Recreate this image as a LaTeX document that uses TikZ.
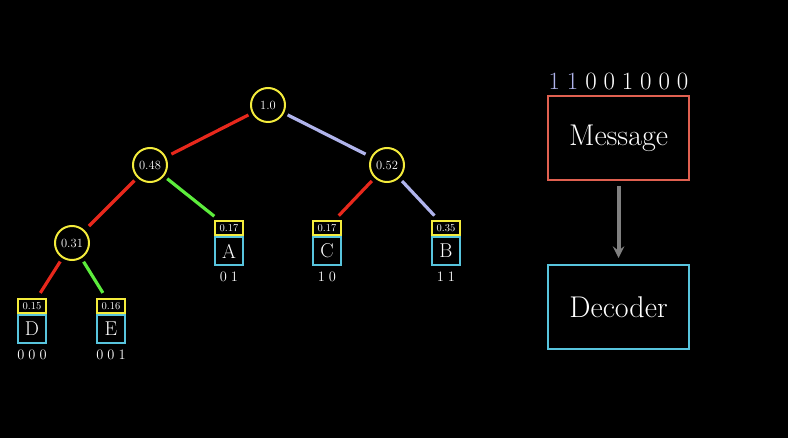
\documentclass[tikz,border=0pt]{standalone}
\usepackage{tikz}
\usetikzlibrary{positioning}
\definecolor{lav}{HTML}{B0B4EC}
\definecolor{tred}{HTML}{E8281C}
\definecolor{tgreen}{HTML}{5CEC3C}
\definecolor{tyel}{HTML}{F4EC3C}
\definecolor{tblue}{HTML}{58C4DD}
\definecolor{msgred}{HTML}{E06050}
\tikzset{
  prob/.style={draw=tyel, circle, line width=2pt, minimum size=34pt, inner sep=0pt, text=white, font=\fontsize{12.5}{14}\selectfont},
  leaf/.style={draw=tblue, rectangle, line width=2pt, minimum width=28pt, minimum height=28pt, inner sep=0pt, text=white, font=\fontsize{20}{22}\selectfont},
  leafp/.style={draw=tyel, rectangle, line width=2pt, minimum width=28pt, minimum height=14pt, inner sep=0pt, text=white, font=\fontsize{10.5}{11}\selectfont},
  code/.style={text=white, font=\fontsize{15}{17}\selectfont},
  edge/.style={line width=3.2pt, shorten >=6pt, shorten <=4pt},
  bigbox/.style={draw, rectangle, line width=2pt, minimum width=141pt, minimum height=84pt, text=white, font=\fontsize{30}{32}\selectfont}
}
\begin{document}
\begin{tikzpicture}[x=1pt,y=-1pt]
    \fill (0,0) rectangle (788,438);
    \useasboundingbox (0,0) rectangle (788,438);
    % tree nodes
    \node [prob] (root) at (268,105) {1.0};
    \node [prob] (n48) at (150,165) {0.48};
    \node [prob] (n52) at (387,165) {0.52};
    \node [prob] (n31) at (72,243) {0.31};
    % leaves
    \node [leaf] (A) at (229,251) {A};
    \node [leaf] (C) at (327,251) {C};
    \node [leaf] (B) at (446,251) {B};
    \node [leaf] (D) at (32,329) {D};
    \node [leaf] (E) at (111,329) {E};
    \foreach \l/\p in {A/0.17,C/0.17,B/0.35,D/0.15,E/0.16}
        \node [leafp, above=0pt of \l] (p\l) {\p};
    \foreach \l/\c in {A/0\;1,C/1\;0,B/1\;1,D/0\;0\;0,E/0\;0\;1}
        \node [code, below=3pt of \l] (c\l) {$\c$};
    % edges
    \draw [edge, tred] (root) -- (n48);
    \draw [edge, lav] (root) -- (n52);
    \draw [edge, tred] (n48) -- (n31);
    \draw [edge, tgreen] (n48) -- (pA);
    \draw [edge, tred] (n52) -- (pC);
    \draw [edge, lav] (n52) -- (pB);
    \draw [edge, tred] (n31) -- (pD);
    \draw [edge, tgreen] (n31) -- (pE);
    % encoder side
    \node [bigbox, draw=msgred] (msg) at (618.5,138.5) {Message};
    \node [bigbox, draw=tblue] (dec) at (618.5,307) {Decoder};
    \node [above=2pt of msg, font=\fontsize{27}{30}\selectfont, text=white] (bits)
        {$\textcolor{lav}{1\;1}\;0\;0\;1\;0\;0\;0$};
    \draw [line width=4pt, gray, -stealth, shorten <=5pt, shorten >=6pt] (msg) -- (dec);
\end{tikzpicture}
\end{document}
